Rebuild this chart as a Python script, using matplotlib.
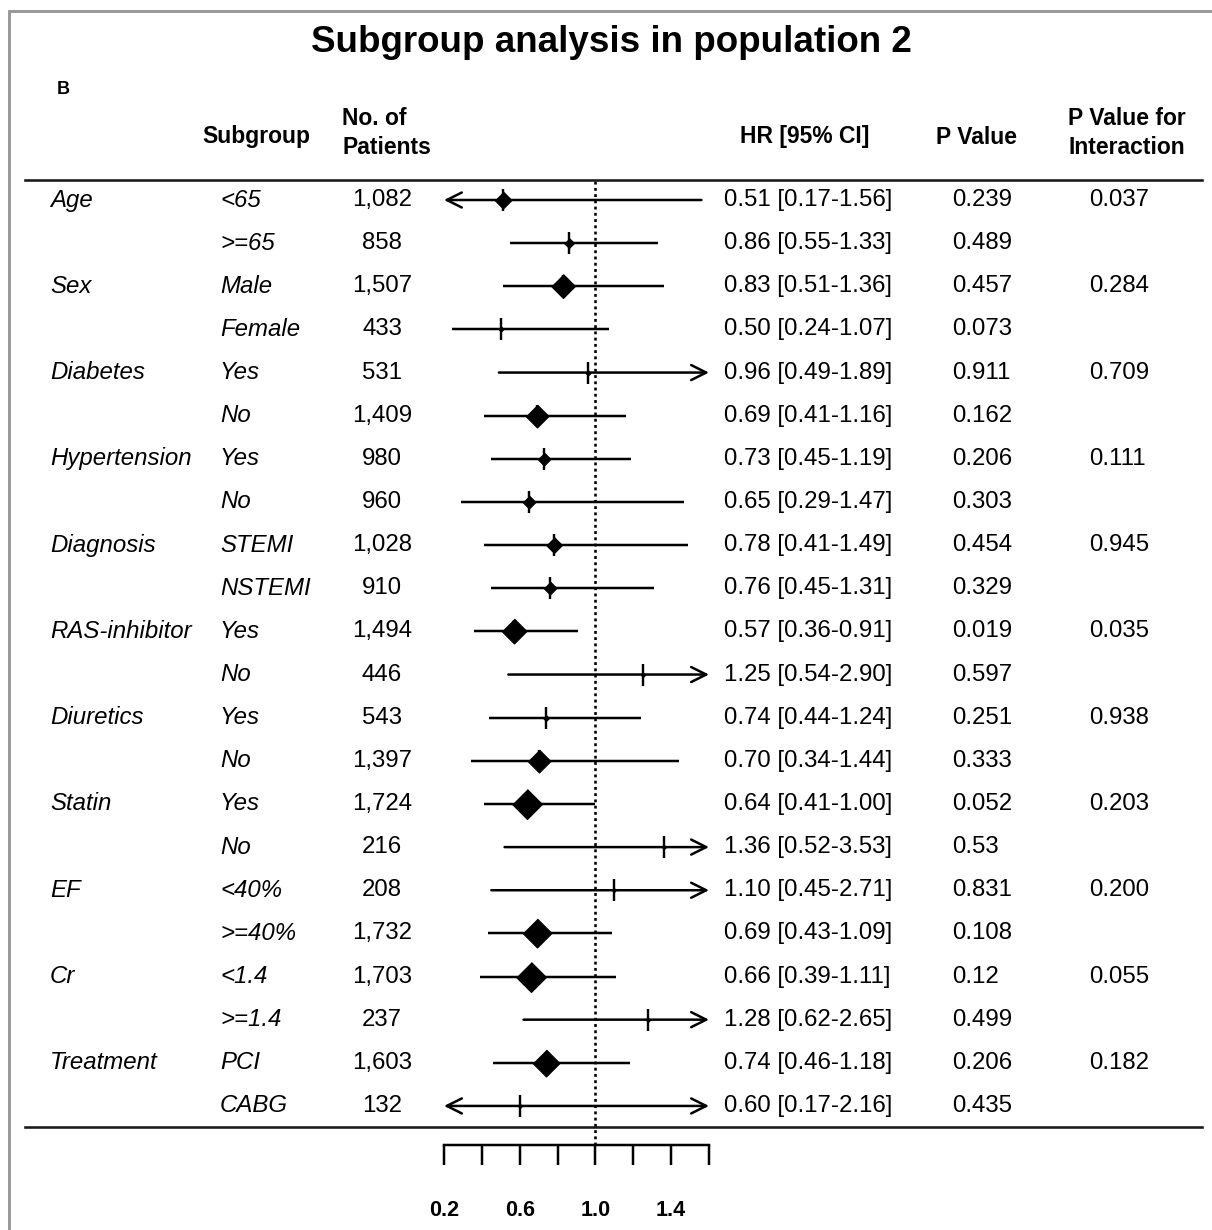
import matplotlib
matplotlib.use("Agg")
import matplotlib.pyplot as plt
from matplotlib.transforms import blended_transform_factory

plt.rcParams['font.family'] = ['Liberation Sans', 'DejaVu Sans']

# ---------------- data ----------------
categories = ["Age", "", "Sex", "", "Diabetes", "", "Hypertension", "", "Diagnosis", "",
              "RAS-inhibitor", "", "Diuretics", "", "Statin", "", "EF", "", "Cr", "",
              "Treatment", ""]
subgroups = ["<65", ">=65", "Male", "Female", "Yes", "No", "Yes", "No", "STEMI", "NSTEMI",
             "Yes", "No", "Yes", "No", "Yes", "No", "<40%", ">=40%", "<1.4", ">=1.4",
             "PCI", "CABG"]
n_patients = ["1,082", "858", "1,507", "433", "531", "1,409", "980", "960", "1,028", "910",
              "1,494", "446", "543", "1,397", "1,724", "216", "208", "1,732", "1,703", "237",
              "1,603", "132"]
hr = [0.51, 0.86, 0.83, 0.50, 0.96, 0.69, 0.73, 0.65, 0.78, 0.76, 0.57, 1.25, 0.74, 0.70,
      0.64, 1.36, 1.10, 0.69, 0.66, 1.28, 0.74, 0.60]
ci_lo = [0.17, 0.55, 0.51, 0.24, 0.49, 0.41, 0.45, 0.29, 0.41, 0.45, 0.36, 0.54, 0.44, 0.34,
         0.41, 0.52, 0.45, 0.43, 0.39, 0.62, 0.46, 0.17]
ci_hi = [1.56, 1.33, 1.36, 1.07, 1.89, 1.16, 1.19, 1.47, 1.49, 1.31, 0.91, 2.90, 1.24, 1.44,
         1.00, 3.53, 2.71, 1.09, 1.11, 2.65, 1.18, 2.16]
p_value = ["0.239", "0.489", "0.457", "0.073", "0.911", "0.162", "0.206", "0.303", "0.454",
           "0.329", "0.019", "0.597", "0.251", "0.333", "0.052", "0.53", "0.831", "0.108",
           "0.12", "0.499", "0.206", "0.435"]
p_interaction = ["0.037", "", "0.284", "", "0.709", "", "0.111", "", "0.945", "", "0.035", "",
                 "0.938", "", "0.203", "", "0.200", "", "0.055", "", "0.182", ""]
tick_values = [0.2, 0.4, 0.6, 0.8, 1.0, 1.2, 1.4, 1.6]
tick_labels = ["0.2", "", "0.6", "", "1.0", "", "1.4", ""]

# marker (box) widths in pixels
box_px = [17, 10, 24, 5, 5, 23, 13, 13, 16, 13, 25, 4, 6, 23, 30, 4, 4, 29, 30, 4, 27, 4]

# ---------------- layout ----------------
W, H = 1212, 1230
DPI = 100
PX = 72.0 / DPI  # points per pixel
fig = plt.figure(figsize=(W / DPI, H / DPI), dpi=DPI)

bg = fig.add_axes([0, 0, 1, 1])
bg.set_xlim(0, W)
bg.set_ylim(H, 0)
bg.axis('off')

xmin, xmax = 0.2, 1.6
x0_px, x1_px = 444, 709
row0_px, row_step = 200, 43.14
top_px, bot_px = 180, 1145

ax = fig.add_axes([x0_px / W, 1 - bot_px / H, (x1_px - x0_px) / W, (bot_px - top_px) / H])
ax.set_xlim(xmin, xmax)
ax.set_ylim((bot_px - row0_px) / row_step, (top_px - row0_px) / row_step)
ax.axis('off')

# frame (left and top)
bg.plot([9, 9], [10, H], color='#9a9a9a', lw=3 * PX, solid_capstyle='butt')
bg.plot([8, W], [11, 11], color='#9a9a9a', lw=3 * PX, solid_capstyle='butt')

# title
bg.text(611, 42, "Subgroup analysis in population 2", fontsize=26.5, fontweight='bold',
        ha='center', va='center')
bg.text(57, 89, "B", fontsize=13, fontweight='bold', ha='left', va='center')

# headers
hfs = 16.5
bg.text(202, 137, "Subgroup", fontsize=hfs, fontweight='bold', ha='left', va='center')
bg.text(342, 133, "No. of\nPatients", fontsize=hfs, fontweight='bold', ha='left', va='center',
        linespacing=1.3)
bg.text(805, 137, "HR [95% CI]", fontsize=hfs, fontweight='bold', ha='center', va='center')
bg.text(977, 137, "P Value", fontsize=hfs, fontweight='bold', ha='center', va='center')
bg.text(1127, 133, "P Value for\nInteraction", fontsize=hfs, fontweight='bold', ha='center',
        va='center', linespacing=1.3)

# horizontal rules
bg.plot([25, 1202], [180, 180], color='#1a1a1a', lw=2.6 * PX)
bg.plot([25, 1202], [1127, 1127], color='#1a1a1a', lw=2.6 * PX)

# row texts
trans = blended_transform_factory(bg.transData, ax.transData)
fs = 17.3
for i in range(len(hr)):
    y = i
    if categories[i]:
        bg.text(50, y, categories[i], transform=trans, fontsize=fs, style='italic',
                ha='left', va='center')
    bg.text(220, y, subgroups[i], transform=trans, fontsize=fs, style='italic',
            ha='left', va='center')
    bg.text(382, y, n_patients[i], transform=trans, fontsize=fs, ha='center', va='center')
    bg.text(724, y, f"{hr[i]:.2f} [{ci_lo[i]:.2f}-{ci_hi[i]:.2f}]", transform=trans,
            fontsize=fs, ha='left', va='center')
    bg.text(952, y, p_value[i], transform=trans, fontsize=fs, ha='left', va='center')
    if p_interaction[i]:
        bg.text(1089, y, p_interaction[i], transform=trans, fontsize=fs, ha='left',
                va='center')

# reference line
ax.axvline(1.0, color='black', lw=2.6 * PX, linestyle=(0, (1.1, 1.3)), ymin=0, ymax=1)

# forest marks
lw = 2.5 * PX
for i in range(len(hr)):
    lo = max(ci_lo[i], xmin)
    hi = min(ci_hi[i], xmax)
    left_arrow = ci_lo[i] < xmin
    right_arrow = ci_hi[i] > xmax
    if left_arrow and right_arrow:
        style = '<->'
    elif left_arrow:
        style = '<-'
    elif right_arrow:
        style = '->'
    else:
        style = '-'
    if style == '-':
        ax.plot([lo, hi], [i, i], color='black', lw=lw, solid_capstyle='butt')
    else:
        ax.annotate('', xy=(hi, i), xytext=(lo, i),
                    arrowprops=dict(arrowstyle=style + ',head_length=1.08,head_width=0.54',
                                    lw=lw, color='black', shrinkA=0, shrinkB=0,
                                    mutation_scale=10))
    ax.plot([hr[i]], [i], marker='|', ms=23 * PX, mew=2.4 * PX, color='black', ls='none')
    ax.plot([hr[i]], [i], marker=[(0, 1), (1, 0), (0, -1), (-1, 0)], ms=box_px[i] * PX,
            color='black', mew=0.8, ls='none')

# x axis (ticks below the table)
ax2 = fig.add_axes([x0_px / W, 1 - 1165 / H, (x1_px - x0_px) / W, 20 / H])
ax2.set_xlim(xmin, xmax)
ax2.set_ylim(0, 1)
ax2.set_yticks([])
for s in ['left', 'right', 'bottom']:
    ax2.spines[s].set_visible(False)
ax2.spines['top'].set_linewidth(2.5 * PX)
ax2.patch.set_alpha(0)
ax2.set_xticks(tick_values)
ax2.set_xticklabels(tick_labels, fontsize=15.5, fontweight='bold')
ax2.tick_params(axis='x', direction='in', length=20 * PX, width=2.5 * PX, top=True,
                bottom=False, labeltop=False, labelbottom=True, pad=25)

fig.savefig("out.png", dpi=DPI)
